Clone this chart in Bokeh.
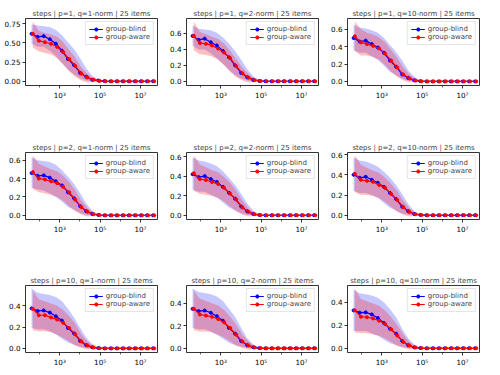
from bokeh.plotting import figure
from bokeh.layouts import gridplot
from bokeh.models import Range1d, FixedTicker, CustomJSTickFormatter, NumeralTickFormatter
from bokeh.embed import file_html
from bokeh.resources import INLINE

# ---------------- data ----------------
steps_blind = [40, 80, 160, 320, 640, 1280, 2560, 5120, 10240, 20480, 40960, 81920,
               163840, 327680, 655360, 1310720, 2621440, 5242880, 10485760, 20971520, 41943040]
steps_aware = [46, 92, 184, 368, 736, 1472, 2944, 5888, 11776, 23552, 47104, 94208,
               188416, 376832, 753664, 1507328, 3014656, 6029312, 12058624, 24117248, 48234496]

p_values = [1, 2, 10]
q_norms = [1, 2, 10]
n_items = 25

# p=1, q=1
blind_p1_q1 = [0.62, 0.58, 0.59, 0.55, 0.49, 0.40, 0.29, 0.21, 0.11, 0.06, 0.02, 0.01, 0.003, 0, 0, 0, 0, 0, 0, 0, 0]
blind_p1_q1_lo = [0.49, 0.45, 0.45, 0.40, 0.33, 0.24, 0.15, 0.09, 0.04, 0.01, 0.0, 0.0, 0.0, 0, 0, 0, 0, 0, 0, 0, 0]
blind_p1_q1_hi = [0.74, 0.73, 0.72, 0.71, 0.67, 0.60, 0.51, 0.42, 0.30, 0.17, 0.07, 0.03, 0.006, 0, 0, 0, 0, 0, 0, 0, 0]
aware_p1_q1 = [0.62, 0.53, 0.51, 0.49, 0.45, 0.38, 0.29, 0.20, 0.10, 0.05, 0.02, 0.005, 0.001, 0, 0, 0, 0, 0, 0, 0, 0]
aware_p1_q1_lo = [0.44, 0.39, 0.37, 0.35, 0.30, 0.22, 0.13, 0.06, 0.01, -0.015, -0.01, 0.0, 0.0, 0, 0, 0, 0, 0, 0, 0, 0]
aware_p1_q1_hi = [0.78, 0.66, 0.63, 0.61, 0.58, 0.51, 0.41, 0.31, 0.18, 0.10, 0.04, 0.01, 0.002, 0, 0, 0, 0, 0, 0, 0, 0]

# p=1, q=2
blind_p1_q2 = [0.57, 0.52, 0.535, 0.49, 0.45, 0.38, 0.30, 0.20, 0.105, 0.05, 0.016, 0.004, 0.001, 0, 0, 0, 0, 0, 0, 0, 0]
blind_p1_q2_lo = [0.45, 0.40, 0.40, 0.35, 0.29, 0.22, 0.14, 0.08, 0.035, 0.01, 0.0, 0.0, 0.0, 0, 0, 0, 0, 0, 0, 0, 0]
blind_p1_q2_hi = [0.70, 0.66, 0.65, 0.64, 0.61, 0.55, 0.47, 0.38, 0.27, 0.15, 0.06, 0.02, 0.004, 0, 0, 0, 0, 0, 0, 0, 0]
aware_p1_q2 = [0.57, 0.48, 0.47, 0.45, 0.41, 0.36, 0.29, 0.19, 0.10, 0.045, 0.014, 0.003, 0.0, 0, 0, 0, 0, 0, 0, 0, 0]
aware_p1_q2_lo = [0.39, 0.34, 0.33, 0.31, 0.27, 0.20, 0.12, 0.05, 0.01, -0.015, -0.01, 0.0, 0.0, 0, 0, 0, 0, 0, 0, 0, 0]
aware_p1_q2_hi = [0.75, 0.62, 0.59, 0.56, 0.53, 0.47, 0.38, 0.28, 0.17, 0.09, 0.035, 0.008, 0.001, 0, 0, 0, 0, 0, 0, 0, 0]

# p=1, q=10
blind_p1_q10 = [0.50, 0.46, 0.47, 0.43, 0.39, 0.33, 0.24, 0.17, 0.08, 0.04, 0.012, 0.003, 0.0, 0, 0, 0, 0, 0, 0, 0, 0]
blind_p1_q10_lo = [0.36, 0.33, 0.33, 0.29, 0.25, 0.18, 0.11, 0.07, 0.03, 0.008, 0.0, 0.0, 0.0, 0, 0, 0, 0, 0, 0, 0, 0]
blind_p1_q10_hi = [0.65, 0.62, 0.61, 0.59, 0.56, 0.50, 0.42, 0.34, 0.24, 0.13, 0.05, 0.015, 0.003, 0, 0, 0, 0, 0, 0, 0, 0]
aware_p1_q10 = [0.52, 0.45, 0.43, 0.41, 0.38, 0.32, 0.24, 0.16, 0.08, 0.035, 0.01, 0.002, 0.0, 0, 0, 0, 0, 0, 0, 0, 0]
aware_p1_q10_lo = [0.35, 0.30, 0.30, 0.28, 0.25, 0.19, 0.11, 0.05, 0.01, -0.012, -0.008, 0.0, 0.0, 0, 0, 0, 0, 0, 0, 0, 0]
aware_p1_q10_hi = [0.69, 0.60, 0.56, 0.54, 0.51, 0.45, 0.36, 0.27, 0.16, 0.08, 0.03, 0.007, 0.001, 0, 0, 0, 0, 0, 0, 0, 0]

# p=2, q=1
blind_p2_q1 = [0.46, 0.43, 0.435, 0.41, 0.37, 0.325, 0.25, 0.185, 0.10, 0.045, 0.015, 0.004, 0.0, 0, 0, 0, 0, 0, 0, 0, 0]
blind_p2_q1_lo = [0.30, 0.28, 0.27, 0.24, 0.20, 0.15, 0.09, 0.06, 0.025, 0.007, 0.0, 0.0, 0.0, 0, 0, 0, 0, 0, 0, 0, 0]
blind_p2_q1_hi = [0.63, 0.60, 0.59, 0.58, 0.55, 0.49, 0.42, 0.34, 0.24, 0.13, 0.05, 0.015, 0.003, 0, 0, 0, 0, 0, 0, 0, 0]
aware_p2_q1 = [0.47, 0.40, 0.39, 0.37, 0.35, 0.31, 0.25, 0.17, 0.09, 0.04, 0.012, 0.003, 0.0, 0, 0, 0, 0, 0, 0, 0, 0]
aware_p2_q1_lo = [0.29, 0.25, 0.24, 0.22, 0.20, 0.16, 0.10, 0.045, 0.008, -0.012, -0.008, 0.0, 0.0, 0, 0, 0, 0, 0, 0, 0, 0]
aware_p2_q1_hi = [0.65, 0.56, 0.53, 0.50, 0.48, 0.43, 0.36, 0.27, 0.16, 0.08, 0.03, 0.007, 0.001, 0, 0, 0, 0, 0, 0, 0, 0]

# p=2, q=2
blind_p2_q2 = [0.42, 0.39, 0.40, 0.37, 0.34, 0.29, 0.23, 0.17, 0.09, 0.04, 0.013, 0.003, 0.0, 0, 0, 0, 0, 0, 0, 0, 0]
blind_p2_q2_lo = [0.26, 0.24, 0.24, 0.21, 0.18, 0.13, 0.08, 0.05, 0.02, 0.006, 0.0, 0.0, 0.0, 0, 0, 0, 0, 0, 0, 0, 0]
blind_p2_q2_hi = [0.59, 0.56, 0.55, 0.53, 0.50, 0.45, 0.38, 0.31, 0.22, 0.12, 0.045, 0.013, 0.003, 0, 0, 0, 0, 0, 0, 0, 0]
aware_p2_q2 = [0.43, 0.37, 0.36, 0.34, 0.32, 0.28, 0.22, 0.16, 0.08, 0.035, 0.01, 0.002, 0.0, 0, 0, 0, 0, 0, 0, 0, 0]
aware_p2_q2_lo = [0.25, 0.22, 0.21, 0.20, 0.18, 0.14, 0.09, 0.04, 0.006, -0.012, -0.008, 0.0, 0.0, 0, 0, 0, 0, 0, 0, 0, 0]
aware_p2_q2_hi = [0.61, 0.52, 0.49, 0.46, 0.44, 0.39, 0.33, 0.25, 0.15, 0.07, 0.025, 0.006, 0.001, 0, 0, 0, 0, 0, 0, 0, 0]

# p=2, q=10
blind_p2_q10 = [0.40, 0.37, 0.38, 0.35, 0.32, 0.28, 0.22, 0.16, 0.085, 0.04, 0.012, 0.003, 0.0, 0, 0, 0, 0, 0, 0, 0, 0]
blind_p2_q10_lo = [0.24, 0.22, 0.22, 0.20, 0.17, 0.12, 0.075, 0.045, 0.018, 0.005, 0.0, 0.0, 0.0, 0, 0, 0, 0, 0, 0, 0, 0]
blind_p2_q10_hi = [0.57, 0.54, 0.53, 0.51, 0.48, 0.43, 0.37, 0.30, 0.21, 0.11, 0.04, 0.012, 0.002, 0, 0, 0, 0, 0, 0, 0, 0]
aware_p2_q10 = [0.41, 0.35, 0.34, 0.33, 0.30, 0.27, 0.21, 0.15, 0.08, 0.033, 0.01, 0.002, 0.0, 0, 0, 0, 0, 0, 0, 0, 0]
aware_p2_q10_lo = [0.23, 0.20, 0.20, 0.19, 0.17, 0.13, 0.085, 0.035, 0.005, -0.012, -0.008, 0.0, 0.0, 0, 0, 0, 0, 0, 0, 0, 0]
aware_p2_q10_hi = [0.59, 0.50, 0.47, 0.44, 0.42, 0.37, 0.31, 0.24, 0.14, 0.07, 0.025, 0.006, 0.001, 0, 0, 0, 0, 0, 0, 0, 0]

# p=10, q=1
blind_p10_q1 = [0.375, 0.35, 0.355, 0.335, 0.30, 0.26, 0.19, 0.14, 0.07, 0.03, 0.01, 0.003, 0.0, 0, 0, 0, 0, 0, 0, 0, 0]
blind_p10_q1_lo = [0.19, 0.18, 0.18, 0.16, 0.13, 0.09, 0.055, 0.035, 0.015, 0.004, 0.0, 0.0, 0.0, 0, 0, 0, 0, 0, 0, 0, 0]
blind_p10_q1_hi = [0.56, 0.52, 0.51, 0.50, 0.48, 0.44, 0.37, 0.29, 0.19, 0.10, 0.04, 0.012, 0.002, 0, 0, 0, 0, 0, 0, 0, 0]
aware_p10_q1 = [0.37, 0.31, 0.31, 0.29, 0.27, 0.24, 0.19, 0.13, 0.065, 0.028, 0.008, 0.002, 0.0, 0, 0, 0, 0, 0, 0, 0, 0]
aware_p10_q1_lo = [0.17, 0.16, 0.16, 0.15, 0.13, 0.10, 0.065, 0.025, 0.003, -0.01, -0.006, 0.0, 0.0, 0, 0, 0, 0, 0, 0, 0, 0]
aware_p10_q1_hi = [0.54, 0.46, 0.44, 0.42, 0.40, 0.36, 0.30, 0.23, 0.13, 0.065, 0.022, 0.005, 0.001, 0, 0, 0, 0, 0, 0, 0, 0]

# p=10, q=2
blind_p10_q2 = [0.35, 0.33, 0.335, 0.315, 0.285, 0.245, 0.18, 0.13, 0.065, 0.028, 0.009, 0.002, 0.0, 0, 0, 0, 0, 0, 0, 0, 0]
blind_p10_q2_lo = [0.18, 0.17, 0.17, 0.15, 0.12, 0.085, 0.05, 0.03, 0.013, 0.003, 0.0, 0.0, 0.0, 0, 0, 0, 0, 0, 0, 0, 0]
blind_p10_q2_hi = [0.53, 0.50, 0.49, 0.48, 0.46, 0.42, 0.35, 0.28, 0.18, 0.09, 0.035, 0.01, 0.002, 0, 0, 0, 0, 0, 0, 0, 0]
aware_p10_q2 = [0.35, 0.30, 0.29, 0.28, 0.26, 0.23, 0.18, 0.12, 0.06, 0.025, 0.007, 0.002, 0.0, 0, 0, 0, 0, 0, 0, 0, 0]
aware_p10_q2_lo = [0.16, 0.15, 0.15, 0.14, 0.12, 0.095, 0.06, 0.023, 0.003, -0.01, -0.006, 0.0, 0.0, 0, 0, 0, 0, 0, 0, 0, 0]
aware_p10_q2_hi = [0.51, 0.44, 0.42, 0.40, 0.38, 0.34, 0.28, 0.21, 0.12, 0.06, 0.02, 0.005, 0.001, 0, 0, 0, 0, 0, 0, 0, 0]

# p=10, q=10
blind_p10_q10 = [0.33, 0.31, 0.313, 0.295, 0.264, 0.22, 0.17, 0.127, 0.064, 0.027, 0.008, 0.002, 0.0, 0, 0, 0, 0, 0, 0, 0, 0]
blind_p10_q10_lo = [0.15, 0.15, 0.15, 0.13, 0.11, 0.075, 0.045, 0.028, 0.012, 0.003, 0.0, 0.0, 0.0, 0, 0, 0, 0, 0, 0, 0, 0]
blind_p10_q10_hi = [0.51, 0.48, 0.47, 0.46, 0.44, 0.40, 0.34, 0.27, 0.17, 0.085, 0.033, 0.01, 0.002, 0, 0, 0, 0, 0, 0, 0, 0]
aware_p10_q10 = [0.33, 0.275, 0.27, 0.26, 0.24, 0.21, 0.165, 0.11, 0.055, 0.024, 0.007, 0.002, 0.0, 0, 0, 0, 0, 0, 0, 0, 0]
aware_p10_q10_lo = [0.14, 0.13, 0.13, 0.12, 0.11, 0.085, 0.055, 0.02, 0.002, -0.01, -0.006, 0.0, 0.0, 0, 0, 0, 0, 0, 0, 0, 0]
aware_p10_q10_hi = [0.52, 0.43, 0.41, 0.39, 0.37, 0.33, 0.27, 0.20, 0.12, 0.055, 0.018, 0.004, 0.001, 0, 0, 0, 0, 0, 0, 0, 0]

# tick labels
x_major_ticks = [1e3, 1e5, 1e7]
x_minor_ticks = [1e2, 1e4, 1e6]
yticks_quarter = [0.0, 0.25, 0.5, 0.75]
yticks_to_06 = [0.0, 0.2, 0.4, 0.6]
yticks_to_04 = [0.0, 0.2, 0.4]

series = {
    (1, 1): (blind_p1_q1, blind_p1_q1_lo, blind_p1_q1_hi, aware_p1_q1, aware_p1_q1_lo, aware_p1_q1_hi),
    (1, 2): (blind_p1_q2, blind_p1_q2_lo, blind_p1_q2_hi, aware_p1_q2, aware_p1_q2_lo, aware_p1_q2_hi),
    (1, 10): (blind_p1_q10, blind_p1_q10_lo, blind_p1_q10_hi, aware_p1_q10, aware_p1_q10_lo, aware_p1_q10_hi),
    (2, 1): (blind_p2_q1, blind_p2_q1_lo, blind_p2_q1_hi, aware_p2_q1, aware_p2_q1_lo, aware_p2_q1_hi),
    (2, 2): (blind_p2_q2, blind_p2_q2_lo, blind_p2_q2_hi, aware_p2_q2, aware_p2_q2_lo, aware_p2_q2_hi),
    (2, 10): (blind_p2_q10, blind_p2_q10_lo, blind_p2_q10_hi, aware_p2_q10, aware_p2_q10_lo, aware_p2_q10_hi),
    (10, 1): (blind_p10_q1, blind_p10_q1_lo, blind_p10_q1_hi, aware_p10_q1, aware_p10_q1_lo, aware_p10_q1_hi),
    (10, 2): (blind_p10_q2, blind_p10_q2_lo, blind_p10_q2_hi, aware_p10_q2, aware_p10_q2_lo, aware_p10_q2_hi),
    (10, 10): (blind_p10_q10, blind_p10_q10_lo, blind_p10_q10_hi, aware_p10_q10, aware_p10_q10_lo, aware_p10_q10_hi),
}

FONT = "DejaVu Sans"
FS_TICK = "7.2px"
FS_TITLE = "7px"
FS_LEGEND = "7px"
BLUE = "#0000ff"
RED = "#ff0000"

sup = {"0": "\u2070", "1": "\u00b9", "2": "\u00b2", "3": "\u00b3", "4": "\u2074",
       "5": "\u2075", "6": "\u2076", "7": "\u2077", "8": "\u2078", "9": "\u2079"}
sup_js = "{" + ",".join('"%s":"%s"' % (k, v) for k, v in sup.items()) + "}"
x_formatter_code = (
    "const s = " + sup_js + ";"
    "const e = String(Math.round(Math.log10(tick)));"
    "return '10' + e.split('').map(c => s[c]).join('');"
)

figs = []
for ri, pv in enumerate(p_values):
    for ci, qv in enumerate(q_norms):
        b, b_lo, b_hi, a, a_lo, a_hi = series[(pv, qv)]
        lo = min(min(b_lo), min(a_lo))
        hi = max(max(b_hi), max(a_hi))
        pad = 0.05 * (hi - lo)
        bottom_border = [49, 48, 15][ri]
        p = figure(
            x_axis_type="log",
            x_range=Range1d(20, 7.0e7),
            y_range=Range1d(lo - pad, hi + pad),
            frame_width=132, frame_height=67,
            min_border_left=25, min_border_right=4,
            min_border_top=18, min_border_bottom=bottom_border,
            toolbar_location=None, output_backend="svg",
            title="steps | p=%d, q=%d-norm | %d items" % (pv, qv, n_items),
        )
        p.title.text_font = FONT
        p.title.text_font_size = FS_TITLE
        p.title.text_font_style = "normal"
        p.title.align = "center"
        p.title.standoff = 1
        p.title.offset = 0

        p.varea(x=steps_blind, y1=b_lo, y2=b_hi, fill_color=BLUE, fill_alpha=0.22)
        p.varea(x=steps_aware, y1=a_lo, y2=a_hi, fill_color=RED, fill_alpha=0.25)
        p.line(steps_blind, b, line_color=BLUE, line_width=1.2, legend_label="group-blind")
        p.scatter(steps_blind, b, size=3, fill_color=BLUE, line_color=BLUE, legend_label="group-blind")
        p.line(steps_aware, a, line_color=RED, line_width=1.2, legend_label="group-aware")
        p.scatter(steps_aware, a, size=3, fill_color=RED, line_color=RED, legend_label="group-aware")

        p.xgrid.visible = False
        p.ygrid.visible = False
        p.outline_line_color = "black"
        p.outline_line_width = 0.8
        p.outline_line_alpha = 1.0

        p.xaxis.ticker = FixedTicker(ticks=x_major_ticks, minor_ticks=x_minor_ticks)
        p.xaxis.formatter = CustomJSTickFormatter(code=x_formatter_code)
        if (pv, qv) == (1, 1):
            p.yaxis.ticker = FixedTicker(ticks=yticks_quarter)
            p.yaxis.formatter = NumeralTickFormatter(format="0.00")
        elif pv == 10:
            p.yaxis.ticker = FixedTicker(ticks=yticks_to_04)
            p.yaxis.formatter = NumeralTickFormatter(format="0.0")
        else:
            p.yaxis.ticker = FixedTicker(ticks=yticks_to_06)
            p.yaxis.formatter = NumeralTickFormatter(format="0.0")

        for ax in (p.xaxis[0], p.yaxis[0]):
            ax.axis_line_color = None
            ax.major_tick_line_color = "black"
            ax.major_tick_line_width = 0.8
            ax.major_tick_out = 3
            ax.major_tick_in = 0
            ax.minor_tick_line_color = "black"
            ax.minor_tick_line_width = 0.6
            ax.minor_tick_out = 2
            ax.minor_tick_in = 0
            ax.major_label_text_font = FONT
            ax.major_label_text_font_size = FS_TICK
            ax.major_label_text_color = "black"
            ax.major_label_standoff = 2

        lg = p.legend[0]
        lg.location = "top_right"
        lg.label_text_font = FONT
        lg.label_text_font_size = FS_LEGEND
        lg.label_height = 8
        lg.glyph_height = 8
        lg.glyph_width = 14
        lg.label_standoff = 3
        lg.spacing = 0
        lg.padding = 3
        lg.margin = 3
        lg.border_line_color = "#cccccc"
        lg.border_line_width = 0.8
        lg.background_fill_alpha = 0.8
        figs.append(p)

grid = gridplot(figs, ncols=3, toolbar_location=None)

open("out.html", "w").write(file_html(grid, INLINE))
